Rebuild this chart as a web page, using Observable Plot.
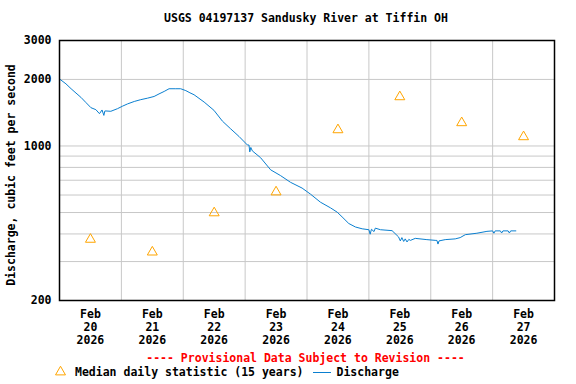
<!DOCTYPE html>
<html><head><meta charset="utf-8">
<script src="https://cdn.jsdelivr.net/npm/d3@7"></script>
<script src="https://cdn.jsdelivr.net/npm/@observablehq/plot@0.6"></script>
<style>
body{margin:0;background:#fff}
#wrap{position:relative;width:576px;height:384px;font-family:"DejaVu Sans Mono",monospace;font-weight:bold;font-size:11.5px;color:#000;overflow:hidden}
.abs{position:absolute;white-space:pre;line-height:1}
</style></head><body><div id="wrap"></div>
<script>
// Discharge (cfs), hours after Feb 20 2026 00:00
const hours = [0,2.5,4.5,6.4,8.3,10.3,12.2,14.1,15.5,16.5,17.2,17.6,18.0,19.9,22.5,24.5,26.4,29.0,31.5,34.1,36.7,38.6,40.6,42.5,45.1,47.0,49.0,50.6,52.2,56.1,59.9,63.2,66.4,69.6,72.9,73.5,73.8,74.2,74.8,78.0,81.9,85.7,89.6,94.1,97.4,101.2,105.1,107.7,109.6,112.2,114.8,117.4,120.0,120.5,121.0,122.0,122.5,124.5,129.0,131.5,132.2,132.8,133.5,134.1,134.8,135.5,136.1,138.0,142.5,146.0,146.4,146.8,147.2,149.6,153.5,155.4,157.4,161.9,165.8,168.0,168.5,169.0,171.0,171.5,172.0,174.0,174.5,175.0,177.0];
const discharge = [2010,1910,1815,1735,1660,1570,1490,1460,1400,1455,1375,1440,1440,1435,1475,1515,1550,1590,1620,1645,1675,1720,1765,1815,1815,1815,1780,1740,1705,1580,1450,1295,1195,1105,1010,1010,940,985,950,885,780,735,685,645,605,557,525,502,478,446,430,422,418,399,420,410,425,418,414,388,372,385,370,380,368,378,374,382,377,374,374,360,372,377,380,385,397,403,411,413,403,413,413,404,413,413,404,413,413];
// Median daily statistic (15 years), at noon of each day
const medianDays = [20,21,22,23,24,25,26,27];
const medianValues = [378,331,498,619,1183,1668,1273,1100];
// Axis ticks
const yGrid = [200,300,400,500,600,700,800,900,1000,2000,3000];
const yLabels = [200,1000,2000,3000];
const dayNums = [20,21,22,23,24,25,26,27,28];

const x0 = Date.UTC(2026,1,20);
const H = 3600e3;
const flow = hours.map((h,i)=>({date:new Date(x0+h*H), value:discharge[i]}));
const med = medianDays.map((d,i)=>({date:new Date(Date.UTC(2026,1,d,12)), value:medianValues[i]}));
const dayEdges = dayNums.map(d=>new Date(Date.UTC(2026,1,d)));
const noons = medianDays.map(d=>new Date(Date.UTC(2026,1,d,12)));

const chart = Plot.plot({
  width:576, height:384, marginTop:40, marginBottom:84, marginLeft:59, marginRight:22,
  style:{fontFamily:'"DejaVu Sans Mono", monospace', fontWeight:"bold", fontSize:"11.5px", color:"#000", background:"transparent", overflow:"visible"},
  x:{type:"utc", domain:[dayEdges[0], dayEdges[dayEdges.length-1]]},
  y:{type:"log", domain:[200,3000]},
  marks:[
    Plot.gridX(dayEdges.slice(1,-1), {stroke:"#c8c8c8", strokeOpacity:1, strokeWidth:1}),
    Plot.gridY(yGrid, {stroke:"#c8c8c8", strokeOpacity:1, strokeWidth:1}),
    Plot.axisX(noons, {tickSize:0, tickPadding:8, lineHeight:1.13, label:null, fontSize:11.5,
      tickFormat:d=>`Feb\n${d.getUTCDate()}\n2026`}),
    Plot.axisY(yLabels, {tickSize:0, tickPadding:8, label:null, fontSize:11.5, tickFormat:d=>String(d)}),
    Plot.line(flow,{x:"date",y:"value",stroke:"#0a7fd0",strokeWidth:1}),
    Plot.dot(med,{x:"date",y:"value",symbol:"triangle",r:3.7,stroke:"#ffa500",fill:"none",strokeWidth:1}),
    Plot.frame({stroke:"#000", strokeWidth:1.5})
  ]
});
const wrap = document.getElementById("wrap");
chart.style.position="absolute"; chart.style.left="0"; chart.style.top="0";
wrap.appendChild(chart);

function addText(txt, x, y, opts={}){
  const d=document.createElement("div");
  d.className="abs"; d.textContent=txt;
  d.style.left=x+"px"; d.style.top=y+"px";
  d.style.transform=opts.transform||"translate(-50%,-50%)";
  if(opts.color) d.style.color=opts.color;
  wrap.appendChild(d); return d;
}
addText("USGS 04197137 Sandusky River at Tiffin OH", 306, 19);
addText("Discharge, cubic feet per second", 12, 175, {transform:"translate(-50%,-50%) rotate(-90deg)"});
addText("---- Provisional Data Subject to Revision ----", 305.5, 359, {color:"#ff0000"});
addText("Median daily statistic (15 years)", 75, 373, {transform:"translate(0,-50%)"});
addText("Discharge", 336.5, 373, {transform:"translate(0,-50%)"});
// legend glyphs
const ns="http://www.w3.org/2000/svg";
const lg=document.createElementNS(ns,"svg");
lg.setAttribute("width",576); lg.setAttribute("height",384);
lg.style.position="absolute"; lg.style.left="0"; lg.style.top="0";
const tri=document.createElementNS(ns,"path");
tri.setAttribute("d", d3.symbol(d3.symbolTriangle, 3.7*3.7*Math.PI)());
tri.setAttribute("transform","translate(60.5,372)");
tri.setAttribute("fill","none"); tri.setAttribute("stroke","#ffa500");
lg.appendChild(tri);
const ln=document.createElementNS(ns,"line");
ln.setAttribute("x1",313); ln.setAttribute("x2",331); ln.setAttribute("y1",372.5); ln.setAttribute("y2",372.5);
ln.setAttribute("stroke","#0a7fd0");
lg.appendChild(ln);
wrap.appendChild(lg);
</script></body></html>
